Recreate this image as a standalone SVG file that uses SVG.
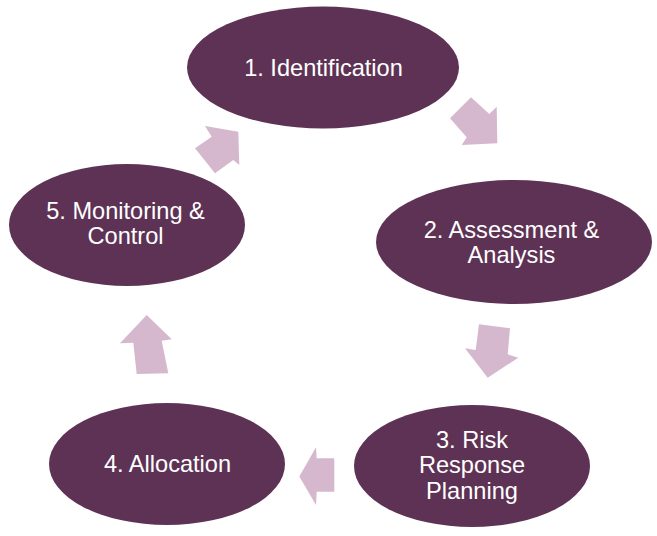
<svg xmlns="http://www.w3.org/2000/svg" width="657" height="536" viewBox="0 0 657 536">
<style>
.node{fill:#5E3254;}
.lbl{fill:#ffffff;font-family:"Liberation Sans",Arial,sans-serif;font-size:23.6px;text-anchor:middle;}
.arr{fill:#D5B8CE;}
</style>
<rect width="657" height="536" fill="#ffffff"/>
<g id="connectors">
<polygon class="arr" points="471,97.3 489.3,114 496.7,106.7 497.3,143.3 461.7,145 466.7,137.3 450,118.3"/>
<polygon class="arr" points="479,324.3 510,328.3 507.7,354.3 518.3,357.7 487.7,377.7 465,348.3 475.7,350"/>
<polygon class="arr" points="334.3,458.3 316.7,458.3 316,447.3 299.3,476.5 316,505 316.7,491.7 334.3,491.7"/>
<polygon class="arr" points="146.7,315 171.7,339.3 161.7,340.7 168.3,373.3 136.7,374 133.3,342.7 120,343.3"/>
<polygon class="arr" points="205,126 238.3,131.7 239.3,165 233.3,160 215,173.3 195,148.3 211.7,136.7"/>
</g>
<g id="node1">
<ellipse class="node" cx="323" cy="67.5" rx="136" ry="61"/>
<text class="lbl" x="323.5" y="76">1. Identification</text>
</g>
<g id="node2">
<ellipse class="node" cx="514" cy="242" rx="138" ry="62"/>
<text class="lbl" x="511.5" y="237.5">2. Assessment &amp;</text>
<text class="lbl" x="511.5" y="263">Analysis</text>
</g>
<g id="node3">
<ellipse class="node" cx="472" cy="466" rx="118" ry="61"/>
<text class="lbl" x="472" y="447.5">3. Risk</text>
<text class="lbl" x="472" y="473">Response</text>
<text class="lbl" x="472" y="498.5">Planning</text>
</g>
<g id="node4">
<ellipse class="node" cx="167" cy="464" rx="118" ry="61"/>
<text class="lbl" x="167.5" y="471.5">4. Allocation</text>
</g>
<g id="node5">
<ellipse class="node" cx="127" cy="225" rx="118" ry="61"/>
<text class="lbl" x="125.5" y="219">5. Monitoring &amp;</text>
<text class="lbl" x="125.5" y="244">Control</text>
</g>
</svg>
